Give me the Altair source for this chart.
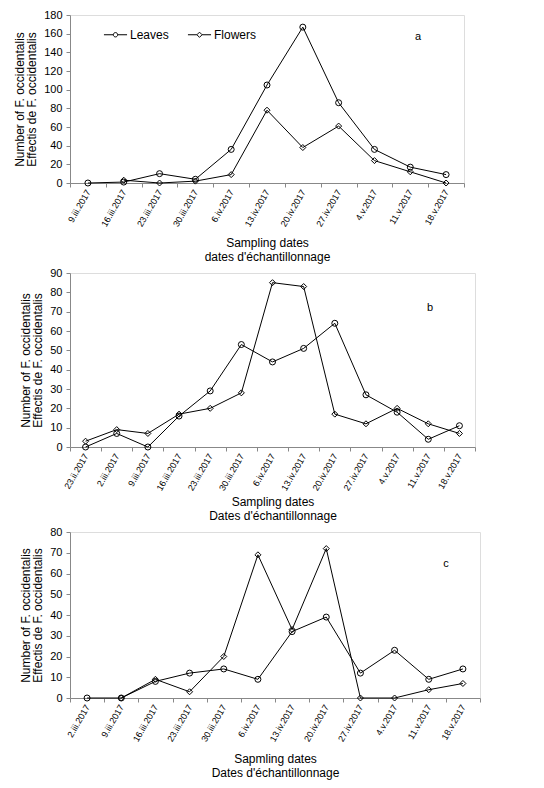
import altair as alt
import pandas as pd

# ---- data ----
dates_a = ["9.iii.2017", "16.iii.2017", "23.iii.2017", "30.iii.2017", "6.iv.2017", "13.iv.2017",
           "20.iv.2017", "27.iv.2017", "4.v.2017", "11.v.2017", "18.v.2017"]
leaves_a = [0, 1, 10, 4, 36, 105, 167, 86, 36, 17, 9]
flowers_a = [None, 3, 0, 2, 9, 78, 38, 61, 24, 12, 0]

dates_b = ["23.ii.2017", "2.iii.2017", "9.iii.2017", "16.iii.2017", "23.iii.2017", "30.iii.2017",
           "6.iv.2017", "13.iv.2017", "20.iv.2017", "27.iv.2017", "4.v.2017", "11.v.2017", "18.v.2017"]
leaves_b = [0, 7, 0, 16, 29, 53, 44, 51, 64, 27, 18, 4, 11]
flowers_b = [3, 9, 7, 17, 20, 28, 85, 83, 17, 12, 20, 12, 7]

dates_c = ["2.iii.2017", "9.iii.2017", "16.iii.2017", "23.iii.2017", "30.iii.2017", "6.iv.2017",
           "13.iv.2017", "20.iv.2017", "27.iv.2017", "4.v.2017", "11.v.2017", "18.v.2017"]
leaves_c = [0, 0, 8, 12, 14, 9, 32, 39, 12, 23, 9, 14]
flowers_c = [None, 0, 9, 3, 20, 69, 33, 72, 0, 0, 4, 7]

series_names = ["Leaves", "Flowers"]
y_title = ["Number of F. occidentalis", "Effectis de F. occidentalis"]

FONT = "Liberation Sans"

circle_path = "M-1.7,0H-0.32M0.32,0H1.7M0.32,0A0.32,0.32 0 1,1 -0.32,0A0.32,0.32 0 1,1 0.32,0"
diamond_path = "M-1.7,0H-0.38M0.38,0H1.7M0.38,0L0,-0.38L-0.38,0L0,0.38Z"


def make_df(dates, leaves, flowers):
    rows = []
    for name, vals in zip(series_names, [leaves, flowers]):
        for d, v in zip(dates, vals):
            if v is not None:
                rows.append({"date": d, "series": name, "value": v})
    return pd.DataFrame(rows)


def panel(dates, leaves, flowers, ymax, step, xtitle, xtitle_pad, letter, letter_xy,
          width, height, legend):
    df = make_df(dates, leaves, flowers)
    x = alt.X("date:N", sort=dates,
              scale=alt.Scale(type="band", domain=dates, paddingInner=0, paddingOuter=0),
              axis=alt.Axis(title=xtitle, labelAngle=300, tickBand="extent",
                            labelFontSize=9, labelAlign="right", labelBaseline="middle",
                            labelPadding=3, tickSize=4, titlePadding=xtitle_pad,
                            titleFontSize=12, titleFontWeight="normal", titleLineHeight=14))
    y = alt.Y("value:Q", scale=alt.Scale(domain=[0, ymax], nice=False),
              axis=alt.Axis(title=y_title, values=list(range(0, ymax + 1, step)),
                            labelFontSize=11, tickSize=4, labelPadding=4, titlePadding=5,
                            titleFontSize=12, titleFontWeight="normal", titleLineHeight=12,
                            grid=False))
    base = alt.Chart(df)
    lines = base.mark_line(color="black", strokeWidth=1).encode(x=x, y=y, detail="series:N")
    pts = base.mark_point(filled=False, color="black", size=36, strokeWidth=1, opacity=1).encode(
        x=x, y=y,
        shape=alt.Shape("series:N", scale=alt.Scale(domain=series_names, range=["circle", "diamond"]),
                        legend=None))
    lab = alt.Chart(pd.DataFrame({"t": [letter]})).mark_text(
        fontSize=11, font=FONT, color="black").encode(
        text="t:N", x=alt.value(letter_xy[0]), y=alt.value(letter_xy[1]))
    layers = [lines, pts, lab]
    if legend:
        leg = alt.Chart(df).transform_filter("false").mark_point(
            filled=False, color="black", strokeWidth=1).encode(
            shape=alt.Shape("series:N",
                            scale=alt.Scale(domain=series_names, range=[circle_path, diamond_path]),
                            legend=alt.Legend(title=None, orient="none", legendX=38, legendY=12,
                                              direction="horizontal", labelFontSize=12,
                                              symbolSize=185, symbolStrokeWidth=1,
                                              symbolStrokeColor="black", symbolFillColor="transparent",
                                              symbolOpacity=1, columnPadding=16, labelOffset=7,
                                              labelFont=FONT, labelColor="black")))
        layers.append(leg)
    ch = alt.layer(*layers).properties(width=width, height=height)
    if legend:
        ch = ch.resolve_scale(shape="independent")
    return ch


a = panel(dates_a, leaves_a, flowers_a, 180, 20, ["Sampling dates", "dates d'échantillonnage"], 9,
          "a", (348, 22), 394, 168, True)
b = panel(dates_b, leaves_b, flowers_b, 90, 10, ["Sampling dates", "Dates d'échantillonnage"], 4,
          "b", (360, 35), 405, 174, False)
c = panel(dates_c, leaves_c, flowers_c, 80, 10, ["Sapmling dates", "Dates d'échantillonnage"], 10,
          "c", (376, 32), 410, 166, False)

chart = alt.vconcat(a, b, c, spacing=3).properties(
    padding={"left": 5, "top": 0, "right": 5, "bottom": 5}
).configure_view(
    stroke="black", strokeWidth=1).configure_axis(
    domainColor="black", tickColor="black", labelColor="black", titleColor="black",
    labelFont=FONT, titleFont=FONT).configure(font=FONT, background="white")

chart.save("out.html", embed_options={"renderer": "svg", "actions": False})
